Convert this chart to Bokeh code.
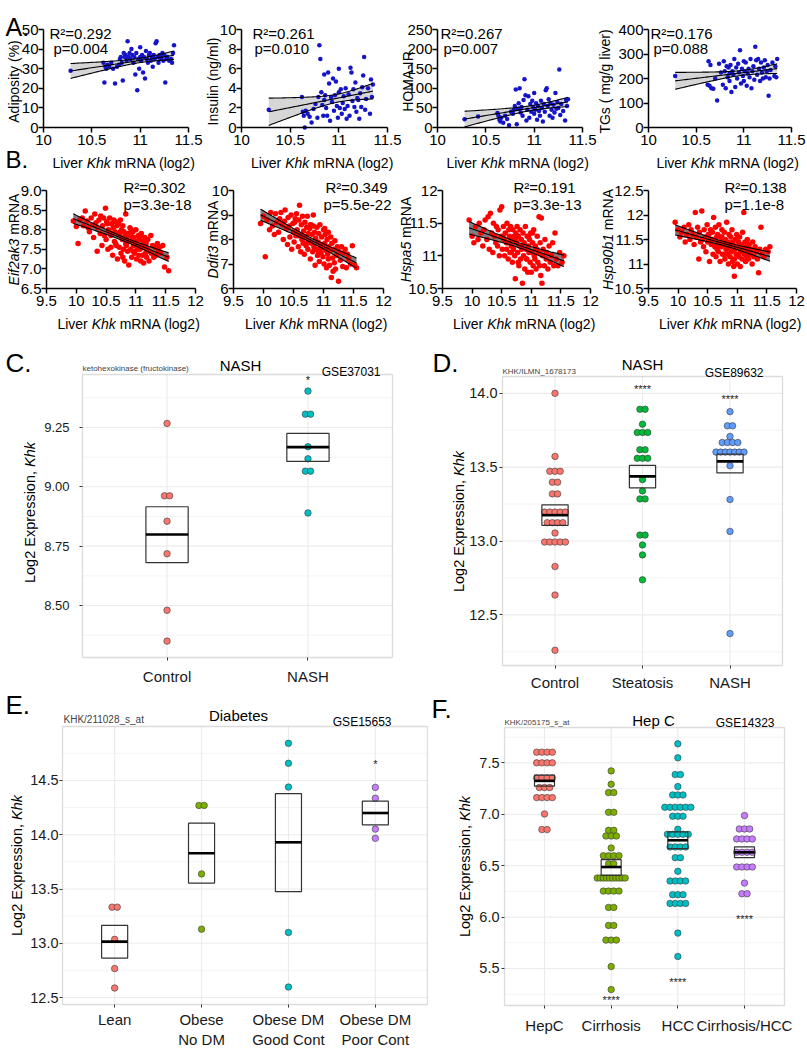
import numpy as np
from bokeh.plotting import figure
from bokeh.layouts import row, column
from bokeh.models import (Label, FixedTicker, CustomJSTickFormatter,
                          PrintfTickFormatter, Range1d, BoxAnnotation)
from bokeh.embed import file_html
from bokeh.resources import INLINE
from bokeh.core.properties import value

FONT = "Liberation Sans"
nan = float("nan")

# ------------------------------------------------------------------ data A
a_khk = [10.28, 10.42, 10.62, 10.63, 10.64, 10.65, 10.66, 10.68, 10.70, 10.72,
         10.74, 10.76, 10.78, 10.79, 10.80, 10.81, 10.82, 10.83, 10.84, 10.85,
         10.86, 10.87, 10.88, 10.89, 10.90, 10.91, 10.92, 10.93, 10.94, 10.95,
         10.96, 10.97, 10.98, 10.99, 11.00, 11.00, 11.01, 11.02, 11.03, 11.04,
         11.05, 11.06, 11.07, 11.08, 11.09, 11.10, 11.11, 11.12, 11.13, 11.14,
         11.15, 11.16, 11.17, 11.18, 11.19, 11.20, 11.21, 11.22, 11.23, 11.24,
         11.25, 11.26, 11.27, 11.28, 11.30, 11.32, 11.33, 11.34, 11.35, 10.85]
a_adiposity = [29, nan, 33, 23, 31, 30, 32, 31, 33, 30,
               22.5, 31, 32, 35, 36, 33, 24, 38, 36, 37,
               34, 44, 36, 38, 35, 40, 37, 33, 36, 27,
               38, 19, 35, 30, 36, 41, 34, 37, 28, 36,
               25, 39, 35, 33, 37, 38, 34, 36, 31, 37,
               35, 43, 44, 36, 33, 37, 35, 36, 38, 34,
               37, 23, 35, 36, 34, 35, 33, 38, 42, 36]
a_insulin = [1.8, nan, 3.1, 1.6, 1.2, 0.0, 1.7, 1.4, 1.1, 0.5,
             1.9, 2.4, 1.0, 3.1, 8.4, 7.0, 3.6, 2.3, 1.2, 5.4,
             3.3, 2.0, 1.2, 5.6, 4.5, 0.7, 3.1, 2.6, 5.0, 1.7,
             3.3, 4.7, 2.2, 1.0, 6.0, 3.6, 2.0, 3.9, 1.4, 2.5,
             3.2, 1.9, 4.0, 0.9, 2.2, 3.4, 1.2, 6.1, 5.6, 2.7,
             3.9, 2.1, 4.6, 1.6, 3.0, 2.8, 0.9, 3.5, 2.1, 4.1,
             5.3, 7.2, 1.8, 2.9, 4.0, 1.4, 4.9, 3.1, 4.4, 2.8]
a_homa = [21, 28, 37, 30, 20, 15, 25, 12, 30, 22,
          6, 40, 35, 45, 55, 97, 8, 48, 62, 100,
          38, 52, 30, 70, 123, 82, 18, 45, 80, 25,
          60, 40, 68, 52, 88, 35, 45, 62, 20, 55,
          42, 30, 68, 50, 15, 60, 40, 95, 100, 55,
          72, 30, 62, 45, 25, 58, 38, 88, 48, 65,
          50, 148, 32, 60, 42, 18, 70, 55, 72, 48]
a_tgs = [210, nan, 175, 270, 170, 255, 160, 158, 200, 110,
         260, 225, 175, 270, 230, 160, 250, 205, 245, 190,
         255, 145, 230, 215, 280, 165, 245, 200, 260, 225,
         315, 180, 240, 210, 270, 190, 230, 265, 170, 220,
         240, 205, 280, 160, 230, 250, 195, 330, 275, 215,
         280, 240, 190, 265, 225, 200, 245, 275, 205, 230,
         255, 130, 200, 235, 265, 210, 250, 205, 280, 220]
a_ylabels = ["Adiposity (%)", "Insulin (ng/ml)", "HOMA-IR", "TGs ( mg/g liver)"]
a_r2 = ["R²=0.292", "R²=0.261", "R²=0.267", "R²=0.176"]
a_p = ["p=0.004", "p=0.010", "p=0.007", "p=0.088"]
a_ymax = [50, 10, 250, 400]
a_ystep = [10, 2, 50, 100]
a_xticks = [10, 10.5, 11, 11.5]

# ------------------------------------------------------------------ data B
b_khk = [9.95, 10.00, 10.03, 10.06, 10.10, 10.12, 10.15, 10.18, 10.20, 10.22,
         10.25, 10.27, 10.29, 10.31, 10.33, 10.35, 10.36, 10.38, 10.40, 10.41,
         10.43, 10.44, 10.46, 10.47, 10.49, 10.50, 10.51, 10.53, 10.54, 10.55,
         10.56, 10.58, 10.59, 10.60, 10.61, 10.62, 10.63, 10.64, 10.65, 10.66,
         10.67, 10.68, 10.69, 10.70, 10.71, 10.72, 10.73, 10.74, 10.75, 10.76,
         10.77, 10.78, 10.79, 10.80, 10.81, 10.82, 10.83, 10.84, 10.85, 10.86,
         10.87, 10.88, 10.89, 10.90, 10.91, 10.92, 10.93, 10.94, 10.95, 10.96,
         10.97, 10.98, 10.99, 11.00, 11.01, 11.02, 11.03, 11.04, 11.05, 11.06,
         11.07, 11.08, 11.09, 11.10, 11.11, 11.12, 11.13, 11.14, 11.15, 11.16,
         11.17, 11.18, 11.19, 11.20, 11.22, 11.23, 11.25, 11.26, 11.28, 11.30,
         11.32, 11.34, 11.36, 11.38, 11.40, 11.42, 11.45, 11.48, 11.52, 11.55,
         10.52, 10.66, 10.74, 10.83, 10.92, 11.02, 11.08, 10.58, 10.78, 10.95]
b_eif2ak3 = [8.22, 8.08, 7.65, 8.25, 8.30, 8.10, 8.48, 8.22, 8.05, 7.95,
             8.30, 8.12, 7.80, 8.40, 8.18, 7.45, 8.05, 8.25, 7.90, 8.35,
             7.60, 8.10, 8.30, 7.85, 8.55, 7.75, 8.20, 7.50, 8.00, 7.95,
             8.30, 7.55, 8.15, 7.90, 7.35, 8.05, 8.25, 7.70, 7.95, 8.20,
             7.60, 8.10, 7.25, 7.90, 8.15, 7.55, 7.85, 8.25, 7.40, 8.00,
             7.75, 8.10, 7.50, 7.95, 7.20, 7.85, 8.40, 7.60, 7.80, 7.45,
             7.90, 7.10, 7.70, 8.05, 7.50, 7.85, 7.30, 7.75, 7.95, 7.60,
             7.80, 7.40, 7.65, 8.00, 7.25, 7.70, 7.55, 7.85, 7.35, 7.75,
             7.50, 7.20, 7.90, 7.60, 7.35, 7.70, 7.15, 7.55, 7.80, 7.40,
             7.65, 7.30, 7.50, 7.75, 7.20, 7.45, 7.85, 7.40, 7.60, 7.30,
             7.55, 7.35, 7.65, 7.45, 7.55, 7.40, 7.60, 7.05, 7.30, 6.95,
             8.15, 7.65, 7.95, 7.65, 8.00, 7.50, 7.85, 7.85, 7.30, 7.45]
b_ddit3 = [8.65, 8.95, 7.30, 8.80, 8.40, 9.10, 8.55, 8.20, 9.05, 8.70,
           8.30, 8.85, 9.10, 8.60, 8.00, 8.75, 9.20, 8.45, 7.80, 8.90,
           8.55, 8.10, 9.00, 7.60, 8.65, 8.30, 7.90, 8.85, 8.15, 9.05,
           8.40, 7.70, 8.80, 9.40, 8.20, 7.50, 8.60, 8.00, 8.95, 7.85,
           8.35, 7.40, 8.70, 8.10, 7.75, 8.50, 8.95, 7.60, 8.25, 7.95,
           8.45, 7.20, 8.60, 7.85, 8.20, 7.50, 9.00, 7.70, 8.30, 6.95,
           8.05, 7.60, 8.50, 7.35, 7.90, 8.25, 7.10, 8.60, 7.80, 7.45,
           8.10, 7.65, 7.30, 8.40, 7.00, 7.85, 8.20, 7.55, 6.85, 8.00,
           7.40, 8.30, 7.70, 6.95, 7.55, 8.10, 6.45, 7.85, 7.25, 6.70,
           7.60, 7.05, 7.95, 6.80, 7.35, 7.70, 6.30, 7.50, 7.15, 7.70,
           6.90, 7.45, 7.60, 6.85, 7.40, 7.20, 7.00, 7.75, 6.95, 6.85,
           8.70, 8.05, 7.90, 8.55, 7.50, 8.45, 7.20, 8.15, 8.60, 7.65]
b_hspa5 = [11.55, 11.30, 11.20, 11.45, 11.25, 11.50, 11.35, 11.15, 11.40, 11.55,
           11.25, 11.60, 11.10, 11.65, 11.35, 11.05, 11.50, 11.30, 11.20, 11.45,
           11.15, 11.40, 11.00, 11.70, 11.30, 11.75, 11.10, 11.45, 11.25, 11.00,
           11.35, 11.10, 11.50, 11.20, 10.95, 11.40, 11.30, 11.05, 11.45, 11.15,
           11.25, 10.90, 11.40, 11.10, 11.30, 11.00, 10.65, 11.35, 11.20, 11.45,
           11.05, 11.30, 10.85, 11.15, 11.40, 10.95, 11.25, 11.10, 10.58, 11.35,
           11.00, 11.20, 10.80, 11.45, 11.10, 10.95, 11.30, 10.75, 11.15, 11.05,
           11.25, 10.90, 11.35, 10.75, 11.05, 11.20, 10.85, 11.40, 11.00, 10.95,
           11.15, 10.80, 11.10, 11.30, 10.90, 11.05, 11.60, 10.85, 11.20, 10.70,
           11.58, 10.58, 11.00, 11.10, 10.85, 11.25, 10.95, 11.05, 10.80, 11.15,
           10.90, 11.00, 11.20, 10.85, 11.35, 10.95, 10.85, 11.05, 10.90, 11.00,
           11.30, 11.05, 11.25, 11.15, 10.95, 11.35, 11.10, 11.20, 10.90, 11.30]
b_hsp90b1 = [11.85, 11.70, 11.55, 11.65, 11.75, 11.45, 11.60, 11.80, 11.50, 11.70,
             11.60, 11.40, 12.05, 11.55, 11.75, 11.10, 11.65, 11.45, 12.08, 11.50,
             11.35, 11.70, 11.55, 11.25, 11.80, 11.45, 11.60, 11.05, 11.50, 11.70,
             11.40, 11.65, 11.20, 11.95, 11.50, 11.35, 11.75, 11.15, 11.55, 11.30,
             11.60, 11.25, 11.80, 11.45, 11.05, 11.55, 11.35, 11.70, 11.20, 11.50,
             11.40, 11.65, 11.10, 11.50, 11.30, 11.85, 11.20, 11.45, 11.00, 11.60,
             11.35, 11.15, 11.55, 11.25, 11.70, 11.05, 11.40, 10.95, 10.75, 11.30,
             11.50, 11.20, 11.60, 11.00, 11.35, 11.45, 11.15, 11.55, 10.95, 11.25,
             11.40, 11.10, 11.65, 11.30, 12.05, 11.20, 11.45, 11.05, 11.35, 11.15,
             11.50, 11.25, 11.10, 11.40, 11.20, 11.30, 11.00, 11.45, 11.15, 11.35,
             11.25, 11.10, 10.82, 11.30, 11.75, 11.20, 11.15, 11.30, 11.25, 11.35,
             11.60, 11.40, 11.55, 11.30, 11.45, 11.20, 11.35, 11.50, 11.20, 11.10]
b_genes = ["Eif2ak3", "Ddit3", "Hspa5", "Hsp90b1"]
b_r2 = ["R²=0.302", "R²=0.349", "R²=0.191", "R²=0.138"]
b_p = ["p=3.3e-18", "p=5.5e-22", "p=3.3e-13", "p=1.1e-8"]
b_yticks = [[6.5, 7.0, 7.5, 8.0, 8.5, 9.0], [6, 7, 8, 9, 10],
            [10.5, 11.0, 11.5, 12.0], [10.5, 11.0, 11.5, 12.0, 12.5]]
b_xticks = [9.5, 10, 10.5, 11, 11.5, 12]

# ------------------------------------------------------------------ data C
c_names = ["Control", "NASH"]
c_control = [9.267, 8.962, 8.962, 8.855, 8.718, 8.480, 8.350]
c_nash = [9.403, 9.306, 9.306, 9.169, 9.118, 9.066, 9.066, 8.890]
c_box_lo = [8.681, 9.107]
c_box_mid = [8.799, 9.167]
c_box_hi = [8.916, 9.225]
c_sig = ["", "*"]
c_sig_y = [nan, 9.449]

# ------------------------------------------------------------------ data D
d_names = ["Control", "Steatosis", "NASH"]
d_control = [14.0, 13.573, 13.472, 13.472, 13.472, 13.398, 13.398, 13.319, 13.319,
             13.196, 13.196, 13.196, 13.196, 13.196, 13.124, 13.124, 13.124, 13.124,
             13.054, 12.993, 12.993, 12.993, 12.993, 12.993, 12.827, 12.634, 12.260]
d_steatosis = [13.892, 13.892, 13.791, 13.735, 13.735, 13.735, 13.618, 13.618,
               13.560, 13.560, 13.560, 13.416, 13.339, 13.285, 13.285, 13.040, 13.040,
               12.973, 12.906, 12.737]
d_nash = [13.876, 13.780, 13.780, 13.708, 13.667, 13.667, 13.667, 13.667,
          13.602, 13.602, 13.602, 13.602, 13.602, 13.602, 13.602, 13.510, 13.281,
          13.065, 12.373]
d_box_lo = [13.106, 13.360, 13.461]
d_box_mid = [13.175, 13.438, 13.539]
d_box_hi = [13.245, 13.512, 13.589]
d_sig = ["", "****", "****"]
d_sig_y = [nan, 14.03, 13.96]

# ------------------------------------------------------------------ data E
e_names = ["Lean", "Obese\nNo DM", "Obese DM\nGood Cont", "Obese DM\nPoor Cont"]
e_lean = [13.333, 13.333, 13.036, 12.767, 12.588]
e_obese = [14.270, 14.270, 13.639, 13.130]
e_dm_good = [14.842, 14.658, 14.439, 13.100, 12.597]
e_dm_poor = [14.436, 14.336, 14.052, 13.967]
e_box_lo = [12.864, 13.555, 13.476, 14.091]
e_box_mid = [13.015, 13.830, 13.930, 14.200]
e_box_hi = [13.164, 14.106, 14.379, 14.309]
e_sig = ["", "", "", "*"]
e_sig_y = [nan, nan, nan, 14.648]

# ------------------------------------------------------------------ data F
f_names = ["HepC", "Cirrhosis", "HCC", "Cirrhosis/HCC"]
f_hepc = [7.604, 7.604, 7.604, 7.604, 7.5, 7.5, 7.5, 7.5, 7.354, 7.354, 7.354, 7.354,
          7.260, 7.260, 7.260, 7.162, 7.162, 7.162, 7.162, 7.003, 6.851, 6.851]
f_cirrhosis = [7.422, 7.292, 7.211, 7.211, 7.019, 7.019, 6.844, 6.844, 6.789, 6.789,
               6.789, 6.672, 6.597, 6.597, 6.597, 6.597, 6.519, 6.519,
               6.380, 6.380, 6.380, 6.380, 6.380, 6.380, 6.380, 6.380, 6.380, 6.380,
               6.253, 6.253, 6.253, 6.253, 6.094, 6.094, 5.919, 5.919,
               5.776, 5.776, 5.776, 5.519, 5.295]
f_hcc = [7.685, 7.549, 7.386, 7.386, 7.269, 7.188, 7.188, 7.188,
         7.068, 7.068, 7.068, 7.068, 7.068, 7.068, 6.981, 6.981, 6.981, 6.854,
         6.805, 6.805, 6.805, 6.805, 6.805, 6.682, 6.682, 6.682, 6.682, 6.578, 6.578,
         6.445, 6.351, 6.351, 6.351, 6.351, 6.218, 6.218, 6.218,
         6.133, 6.133, 6.133, 6.133, 5.844, 5.617]
f_cirr_hcc = [6.987, 6.857, 6.857, 6.857, 6.760, 6.760, 6.760, 6.760,
              6.630, 6.630, 6.630, 6.630, 6.487, 6.487, 6.487, 6.487, 6.331, 6.227, 6.227]
f_box_lo = [7.273, 6.406, 6.666, 6.578]
f_box_mid = [7.325, 6.487, 6.747, 6.630]
f_box_hi = [7.380, 6.558, 6.828, 6.682]
f_sig = ["", "****", "****", "****"]
f_sig_y = [nan, 5.195, 5.373, 5.984]

GG_COLORS4 = ["#F8766D", "#7CAE00", "#00BFC4", "#C77CFF"]

# ------------------------------------------------------------------ helpers
CW = {' ': .278, '!': .278, '(': .333, ')': .333, ',': .278, '-': .333, '.': .278,
      '/': .278, '=': .584, '%': .889, '_': .556, '²': .333,
      'A': .667, 'B': .667, 'C': .722, 'D': .722, 'E': .667, 'F': .611, 'G': .778,
      'H': .722, 'I': .278, 'K': .667, 'L': .556, 'M': .833, 'N': .722, 'O': .778,
      'P': .667, 'R': .722, 'S': .667, 'T': .611,
      'a': .556, 'b': .556, 'c': .5, 'd': .556, 'e': .556, 'f': .278, 'g': .556,
      'h': .556, 'i': .222, 'j': .222, 'k': .5, 'l': .222, 'm': .833, 'n': .556,
      'o': .556, 'p': .556, 'q': .556, 'r': .333, 's': .5, 't': .278, 'u': .556,
      'v': .5, 'w': .722, 'x': .5, 'y': .5, 'z': .5}


def tw(text, size):
    return sum(CW.get(ch, 0.556) for ch in text) * size


class Box:
    """Figure placed at page box (px, py, w, h); data window (d) shown in page box (f)."""

    def __init__(self, px, py, w, h, fx0, fy0, fx1, fy1, dx0, dx1, dy0, dy1):
        self.px, self.py, self.w, self.h = px, py, w, h
        self.fx0, self.fy0, self.fx1, self.fy1 = fx0, fy0, fx1, fy1
        self.dx0, self.dx1, self.dy0, self.dy1 = dx0, dx1, dy0, dy1
        self.sx = (dx1 - dx0) / (fx1 - fx0)
        self.sy = (dy1 - dy0) / (fy1 - fy0)

    def X(self, X):
        return self.dx0 + (X - self.fx0) * self.sx

    def Y(self, Y):
        return self.dy1 - (Y - self.fy0) * self.sy

    def fig(self):
        p = figure(width=self.w, height=self.h,
                   x_range=Range1d(self.X(self.px), self.X(self.px + self.w)),
                   y_range=Range1d(self.Y(self.py + self.h), self.Y(self.py)),
                   output_backend="svg", toolbar_location=None, min_border=0,
                   min_border_left=0, min_border_right=0, min_border_top=0,
                   min_border_bottom=0, title=None)
        p.outline_line_color = None
        p.xgrid.visible = False
        p.ygrid.visible = False
        p.xaxis[0].fixed_location = self.dy0
        p.yaxis[0].fixed_location = self.dx0
        p.xaxis[0].bounds = (self.dx0, self.dx1)
        p.yaxis[0].bounds = (self.dy0, self.dy1)
        return p


def put(p, B, X, Y, text, size, align="left", baseline="alphabetic",
        angle=0.0, italic=False, color="black"):
    p.add_layout(Label(x=B.X(X), y=B.Y(Y), text=text, text_font=FONT,
                       text_font_size=f"{size}px", text_align=align,
                       text_baseline=baseline, angle=angle,
                       text_font_style="italic" if italic else "normal",
                       text_color=color))


def put_rich(p, B, X, Y, pieces, size, vertical=False, color="black"):
    total = sum(tw(t, size) for t, _ in pieces)
    pos = -total / 2
    for t, it in pieces:
        lead = len(t) - len(t.lstrip(" "))
        start = pos + tw(" " * lead, size)
        s = t.strip(" ")
        if vertical:
            put(p, B, X, Y - start, s, size, baseline="middle",
                angle=np.pi / 2, italic=it, color=color)
        else:
            put(p, B, X + start, Y, s, size, italic=it, color=color)
        pos += tw(t, size)


def fit_band(x, y, n=60):
    x = np.asarray(x, float)
    y = np.asarray(y, float)
    m = ~np.isnan(y)
    x, y = x[m], y[m]
    b, a = np.polyfit(x, y, 1)
    xs = np.linspace(x.min(), x.max(), n)
    yhat = a + b * xs
    resid = y - (a + b * x)
    s = np.sqrt(np.sum(resid ** 2) / (len(x) - 2))
    sxx = np.sum((x - x.mean()) ** 2)
    se = s * np.sqrt(1.0 / len(x) + (xs - x.mean()) ** 2 / sxx)
    return xs, yhat, yhat - 1.98 * se, yhat + 1.98 * se


def prism_panel(B, xticks, yticks, xs, ys, color, size, band_color, yfmt=None):
    p = B.fig()
    p.xaxis.ticker = FixedTicker(ticks=xticks)
    p.yaxis.ticker = FixedTicker(ticks=yticks)
    p.xaxis.formatter = CustomJSTickFormatter(code="return String(tick);")
    if yfmt is not None:
        p.yaxis.formatter = yfmt
    for ax in (p.xaxis[0], p.yaxis[0]):
        ax.axis_line_width = 1.5
        ax.axis_line_color = "black"
        ax.major_tick_line_width = 1.5
        ax.major_tick_line_color = "black"
        ax.major_tick_out = 5
        ax.major_tick_in = 0
        ax.minor_tick_out = 0
        ax.minor_tick_in = 0
        ax.major_label_text_font = FONT
        ax.major_label_text_font_size = "15px"
        ax.major_label_text_color = "black"
    p.xaxis.major_label_standoff = 2
    p.yaxis.major_label_standoff = 0
    fx_, yh, lo, hi = fit_band(xs, ys)
    p.varea(x=fx_, y1=lo, y2=hi, fill_color=band_color)
    p.scatter(xs, ys, size=size, fill_color=color, line_color=None)
    for yy in (lo, hi, yh):
        p.line(fx_, yy, line_color="black", line_width=1.1)
    return p


def swarm(center, vals, step, max_span):
    counts = {}
    for v in vals:
        counts[v] = counts.get(v, 0) + 1
    seen = {}
    out = []
    for v in vals:
        k = counts[v]
        i = seen.get(v, 0)
        seen[v] = i + 1
        st = step if k < 2 else min(step, max_span / (k - 1))
        out.append(center + (i - (k - 1) / 2) * st)
    return out


def gg_panel(B, names, groups, colors, blo, bmid, bhi, sig, sig_y,
             yticks, yminor, yfmt, ytick_size, ystandoff, xstandoff):
    k = len(names)
    cats = list(range(1, k + 1))
    p = B.fig()
    x0, x1, y0, y1 = B.dx0, B.dx1, B.dy0, B.dy1
    # panel grid (minor, then major)
    p.segment(x0=[x0] * len(yminor), x1=[x1] * len(yminor), y0=yminor, y1=yminor,
              line_color="#f3f3f3", line_width=0.9)
    p.segment(x0=[x0] * len(yticks), x1=[x1] * len(yticks), y0=yticks, y1=yticks,
              line_color="#ebebeb", line_width=1.1)
    p.segment(x0=cats, x1=cats, y0=[y0] * k, y1=[y1] * k,
              line_color="#ebebeb", line_width=1.1)
    p.xaxis.ticker = FixedTicker(ticks=cats)
    p.xaxis.formatter = CustomJSTickFormatter(args=dict(names=names),
                                              code="return names[Math.round(tick) - 1];")
    p.yaxis.ticker = FixedTicker(ticks=yticks)
    p.yaxis.formatter = PrintfTickFormatter(format=yfmt)
    for ax in (p.xaxis[0], p.yaxis[0]):
        ax.axis_line_color = None
        ax.major_tick_line_color = "#333333"
        ax.major_tick_out = 3
        ax.major_tick_in = 0
        ax.minor_tick_out = 0
        ax.minor_tick_in = 0
        ax.major_label_text_font = FONT
        ax.major_label_text_color = "#1a1a1a"
    p.xaxis.major_label_text_font_size = "15px"
    p.yaxis.major_label_text_font_size = f"{ytick_size}px"
    p.yaxis.major_label_standoff = ystandoff
    p.xaxis.major_label_standoff = xstandoff
    step = 5.2 * B.sx
    span = 28 * B.sx
    for i, vals in enumerate(groups):
        xs = swarm(cats[i], vals, step, span)
        p.scatter(xs, vals, size=6.5, fill_color=colors[i], line_color="#3a3a3a",
                  line_width=0.6)
    hw = 0.15
    p.quad(left=[c - hw for c in cats], right=[c + hw for c in cats],
           bottom=blo, top=bhi, fill_color=None, line_color="#333333", line_width=1.2)
    p.segment(x0=[c - hw for c in cats], x1=[c + hw for c in cats],
              y0=bmid, y1=bmid, line_color="black", line_width=2.6)
    sx = [cats[i] for i in range(k) if sig[i]]
    sy = [sig_y[i] for i in range(k) if sig[i]]
    st = [sig[i] for i in range(k) if sig[i]]
    p.text(x=sx, y=sy, text=st, text_font=value(FONT), text_font_size="11px",
           text_align="center", text_baseline="middle", text_color="#222222")
    p.add_layout(BoxAnnotation(left=x0, right=x1, bottom=y0, top=y1,
                               fill_color=None, fill_alpha=0,
                               line_color="#8c8c8c", line_width=1.3))
    return p


def khk_title(p, B, base_y):
    put_rich(p, B, (B.fx0 + B.fx1) / 2 + 8, base_y,
             [("Liver ", False), ("Khk", True), (" mRNA (log2)", False)], 14)


ROW_A_H = 172
ROW_B_Y = 172
ROW_B_H = 161

# ------------------------------------------------------------------ row A
a_vals = [a_adiposity, a_insulin, a_homa, a_tgs]
a_boxes = [(0, 203, 43, 188), (203, 198, 241, 387), (401, 196, 437, 582),
           (597, 209, 648, 791)]
a_ylab_x = [13, 212, 407, 604]
a_stat_x = [(49, 53), (252, 254), (440, 443), (650, 653)]
a_figs = []
for i in range(4):
    px, w, fx0, fx1 = a_boxes[i]
    B = Box(px, 0, w, ROW_A_H, fx0, 29, fx1, 127, 10, 11.5, 0, a_ymax[i])
    yt = list(range(0, a_ymax[i] + 1, a_ystep[i]))
    p = prism_panel(B, a_xticks, yt, a_khk, a_vals[i], "#1414c8", 4.5, "#d6d6d6")
    put(p, B, a_stat_x[i][0], 33, a_r2[i], 15)
    put(p, B, a_stat_x[i][1], 48, a_p[i], 15)
    put_rich(p, B, a_ylab_x[i], 81, [(a_ylabels[i], False)], 14, vertical=True)
    khk_title(p, B, 162)
    if i == 0:
        put(p, B, 5, 26, "A.", 25)
        put(p, B, 5, 159, "B.", 24)
    a_figs.append(p)

# ------------------------------------------------------------------ row B
b_vals = [b_eif2ak3, b_ddit3, b_hspa5, b_hsp90b1]
b_boxes = [(0, 204, 46, 195), (204, 193, 233, 383), (397, 202, 442, 590),
           (599, 207, 648, 796)]
b_ylab_x = [13, 212, 405, 607]
b_stat_x = [(123, 123), (325, 323), (513, 513), (724, 724)]
b_figs = []
for i in range(4):
    px, w, fx0, fx1 = b_boxes[i]
    yt = b_yticks[i]
    B = Box(px, ROW_B_Y, w, ROW_B_H, fx0, 190, fx1, 288, 9.5, 12, yt[0], yt[-1])
    fmt = None
    if i == 0:
        fmt = CustomJSTickFormatter(code="return tick == 8 ? '8.8' : tick.toFixed(1);")
    p = prism_panel(B, b_xticks, yt, b_khk, b_vals[i], "#ff0000", 5.5, "#7d7d7d",
                    yfmt=fmt)
    put(p, B, b_stat_x[i][0], 187, b_r2[i], 15)
    put(p, B, b_stat_x[i][1], 204, b_p[i], 15)
    put_rich(p, B, b_ylab_x[i], 239, [(b_genes[i], True), (" mRNA", False)], 14,
             vertical=True)
    khk_title(p, B, 323)
    b_figs.append(p)

YLAB = [("Log2 Expression, ", False), ("Khk", True)]

# ------------------------------------------------------------------ C
BC = Box(0, 333, 428, 352, 82, 374, 392, 657, 0.4, 2.6, 8.281, 9.473)
pc = gg_panel(BC, c_names, [c_control, c_nash], ["#F8766D", "#00BFC4"],
              c_box_lo, c_box_mid, c_box_hi, c_sig, c_sig_y,
              [8.5, 8.75, 9.0, 9.25], [8.375, 8.625, 8.875, 9.125, 9.375],
              "%.2f", 13, 10, 7)
put(pc, BC, 240, 365, "NASH", 15, align="center")
put(pc, BC, 82, 368, "ketohexokinase (fructokinase)", 8, color="#444444")
put(pc, BC, 380, 371, "GSE37031", 12, align="right")
put_rich(pc, BC, 29, 512, YLAB, 14.5, vertical=True)
put(pc, BC, 5, 362, "C.", 26)

# ------------------------------------------------------------------ D
BD = Box(428, 333, 378, 356, 502, 376, 782, 665, 0.4, 3.6, 12.157, 14.114)
pd_ = gg_panel(BD, d_names, [d_control, d_steatosis, d_nash],
               ["#F8766D", "#00BA38", "#619CFF"], d_box_lo, d_box_mid, d_box_hi,
               d_sig, d_sig_y, [12.5, 13.0, 13.5, 14.0],
               [12.25, 12.75, 13.25, 13.75], "%.1f", 14.5, 2, 5)
put(pd_, BD, 642, 364, "NASH", 15, align="center")
put(pd_, BD, 502, 371, "KHK/ILMN_1678173", 8, color="#444444")
put(pd_, BD, 763, 372, "GSE89632", 12, align="right")
put_rich(pd_, BD, 458, 521, YLAB, 14.5, vertical=True)
put(pd_, BD, 432, 362, "D.", 26)

# ------------------------------------------------------------------ E
BE = Box(0, 685, 428, 365, 62, 726, 427, 1004, 0.4, 4.6, 12.436, 14.997)
pe = gg_panel(BE, e_names, [e_lean, e_obese, e_dm_good, e_dm_poor], GG_COLORS4,
              e_box_lo, e_box_mid, e_box_hi, e_sig, e_sig_y,
              [12.5, 13.0, 13.5, 14.0, 14.5], [12.75, 13.25, 13.75, 14.25, 14.75],
              "%.1f", 14.5, 1, 3)
put(pe, BE, 238, 715, "Diabetes", 15, align="center")
put(pe, BE, 63, 719, "KHK/211028_s_at", 10, color="#444444")
put(pe, BE, 391, 721, "GSE15653", 12, align="right")
put_rich(pe, BE, 16, 865, YLAB, 14.5, vertical=True)
put(pe, BE, 5, 704, "E.", 26)

# ------------------------------------------------------------------ F
BF = Box(428, 689, 378, 361, 504, 727, 784, 1005, 0.4, 4.6, 5.14, 7.844)
pf = gg_panel(BF, f_names, [f_hepc, f_cirrhosis, f_hcc, f_cirr_hcc], GG_COLORS4,
              f_box_lo, f_box_mid, f_box_hi, f_sig, f_sig_y,
              [5.5, 6.0, 6.5, 7.0, 7.5], [5.25, 5.75, 6.25, 6.75, 7.25, 7.75],
              "%.1f", 14.5, 2, 8)
put(pf, BF, 653, 720, "Hep C", 15, align="center")
put(pf, BF, 504, 722, "KHK/205175_s_at", 8, color="#444444")
put(pf, BF, 774, 722, "GSE14323", 12, align="right")
put_rich(pf, BF, 464, 866, YLAB, 14.5, vertical=True)
put(pf, BF, 431, 708, "F.", 26)

layout = column(row(*a_figs), row(*b_figs),
                row(column(pc, pe), column(pd_, pf)))
open("out.html", "w").write(file_html(layout, INLINE, title="Khk"))
